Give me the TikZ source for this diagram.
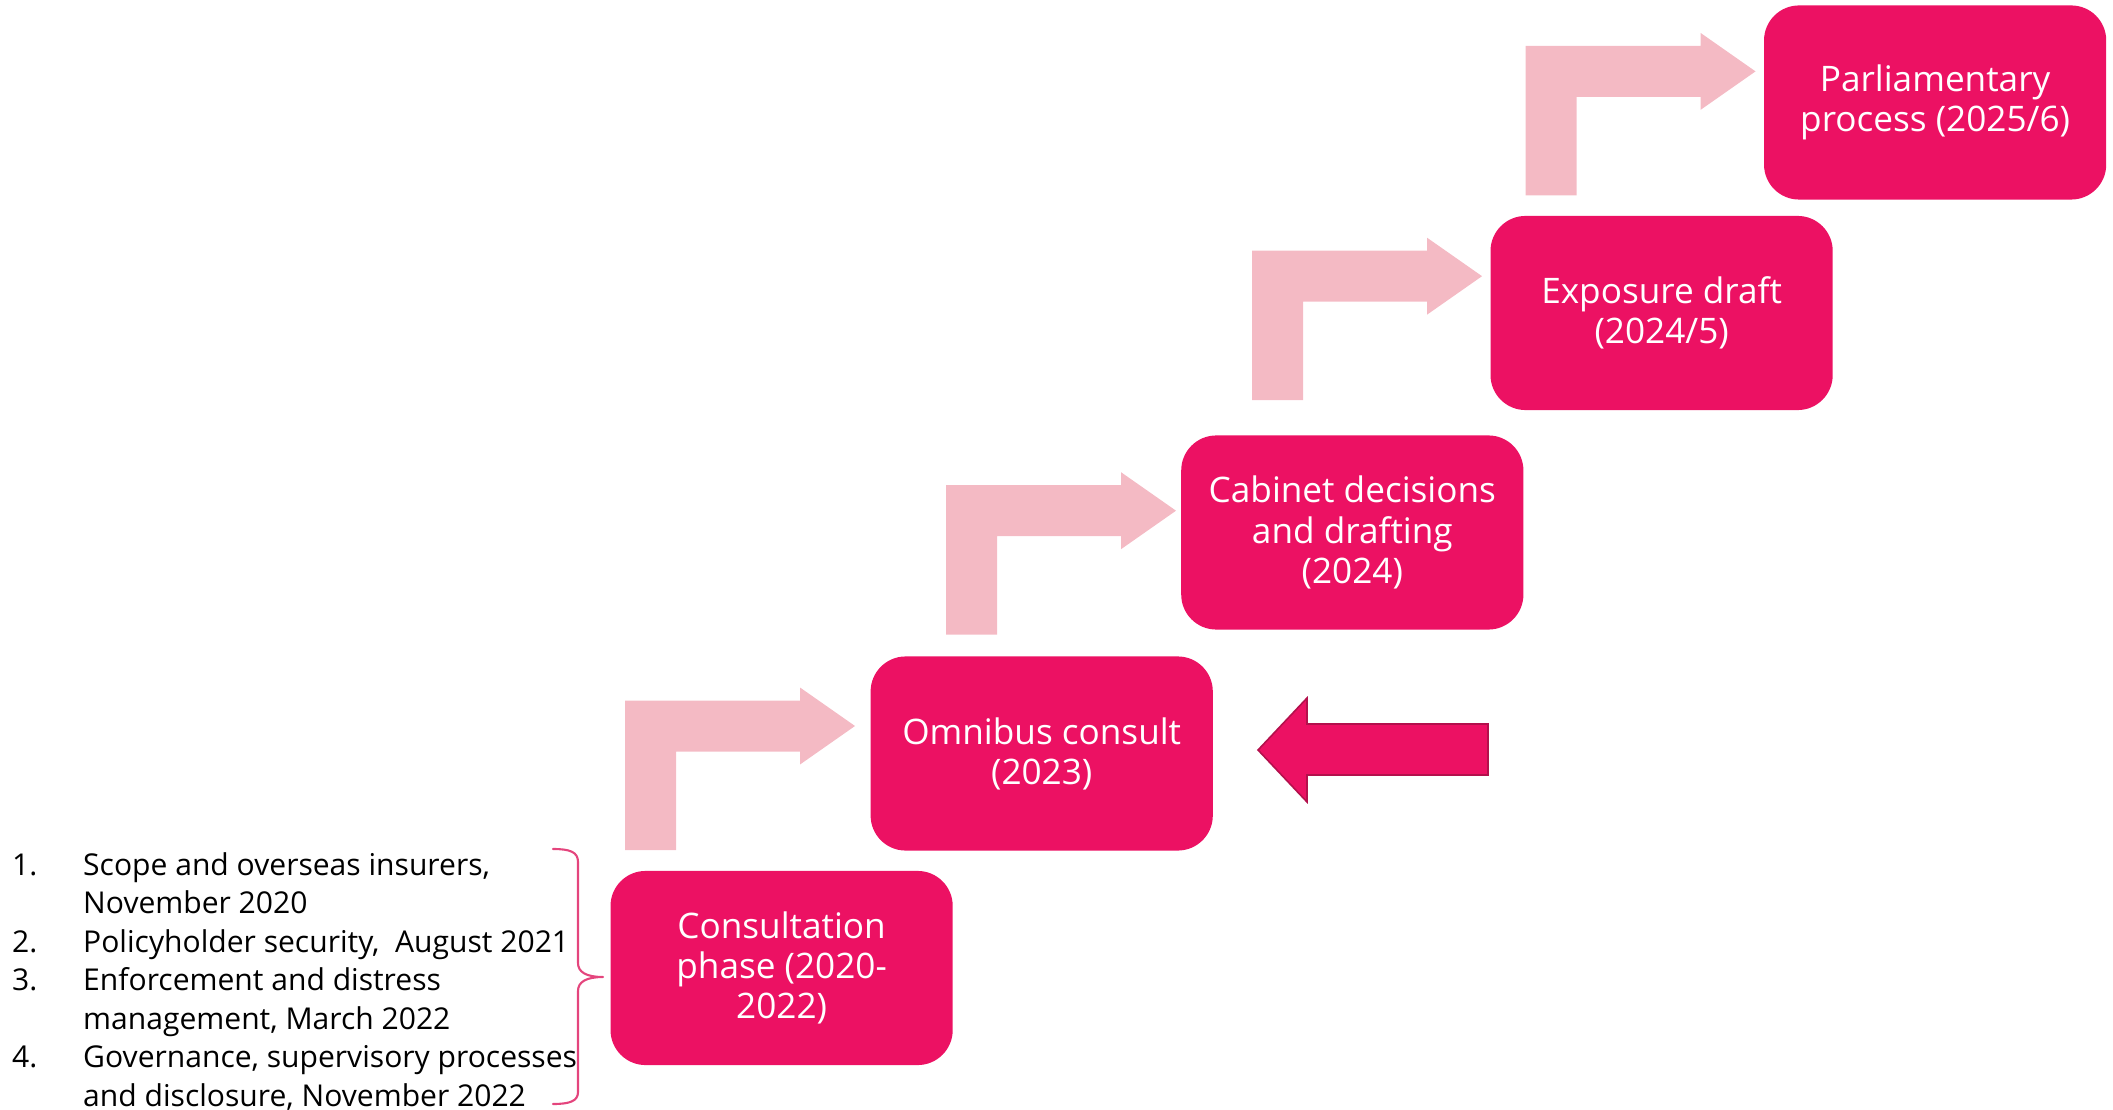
\documentclass[tikz,border=0pt]{standalone}
\usepackage{fontspec}
\setmainfont{Open Sans}
\usepackage{tikz}
\definecolor{stagepink}{HTML}{EC1163}
\definecolor{steppink}{HTML}{F4BAC4}
\definecolor{edgepink}{HTML}{B3104C}
\definecolor{bracepink}{HTML}{E4457D}

\begin{document}
\begin{tikzpicture}[line cap=round,line join=round,x=0.01cm,y=-0.01cm,
  stage/.style={fill=stagepink,text=white,rounded corners=0.35cm,minimum width=3.42cm,minimum height=1.94cm,align=center,inner sep=0pt,font=\fontsize{10pt}{11.4pt}\selectfont},
  riser/.style={fill=steppink}]
\useasboundingbox (0,0) rectangle (2113,1110);
% stages
\node[stage] (cons) at (781.6,968) {Consultation\\phase (2020-\\2022)};
\node[stage] (omni) at (1041.7,753.5) {Omnibus consult\\(2023)};
\node[stage] (cabi) at (1352.3,532.5) {Cabinet decisions\\and drafting\\(2024)};
\node[stage] (expo) at (1661.6,313) {Exposure draft\\(2024/5)};
\node[stage] (parl) at (1935.1,102.5) {Parliamentary\\process (2025/6)};
% bent arrows between stages
\foreach \ax/\ay in {625/850,946/634.7,1252/400.2,1525.5/195.4}
  \fill[riser] (\ax,\ay) -- ++(0,-149.5) -- ++(175,0) -- ++(0,-13) -- ++(55,38.5) -- ++(-55,38.5) -- ++(0,-13) -- ++(-124,0) -- ++(0,98.5) -- cycle;
% arrow pointing back at the omnibus consult
\filldraw[fill=stagepink,draw=edgepink,line width=0.45pt,line join=miter] (1258,750) -- (1307,698) -- (1307,724) -- (1488,724) -- (1488,775) -- (1307,775) -- (1307,802) -- cycle;
% consultation papers
\node[anchor=base west,inner sep=0pt,font=\fontsize{8.55pt}{10.95pt}\selectfont] (papers) at (11.5,875) {\begin{tabular}[t]{@{}p{0.71cm}@{}l@{}}
1. & Scope and overseas insurers,\\
   & November 2020\\
2. & Policyholder security,~ August 2021\\
3. & Enforcement and distress\\
   & management, March 2022\\
4. & Governance, supervisory processes\\
   & and disclosure, November 2022
\end{tabular}};
\draw[bracepink,line width=0.6pt] (553,849) .. controls (570,849) and (578,852) .. (578,862) -- (578,963) .. controls (578,972) and (586,977) .. (603,977) .. controls (586,977) and (578,982) .. (578,991) -- (578,1092) .. controls (578,1101) and (570,1104) .. (553,1104);
\end{tikzpicture}
\end{document}
